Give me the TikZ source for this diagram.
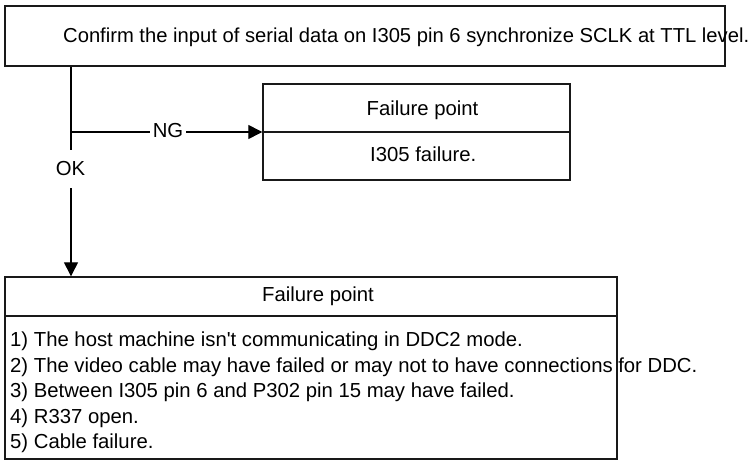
\documentclass[tikz,border=0pt]{standalone}
\usepackage{fontspec}
\setmainfont{Liberation Sans}
\usetikzlibrary{arrows.meta}
\begin{document}
\begin{tikzpicture}[x=1pt,y=-1pt,
  frame/.style={draw=black!90,line width=1.4pt,inner sep=0pt},
  txt/.style={inner sep=0pt,anchor=base west,font=\fontsize{20.3}{24}\selectfont},
  flow/.style={draw=black,line width=1.3pt},
  tip/.style={-{Triangle[length=14pt,width=14pt]}},
  lbl/.style={fill=white,inner xsep=3pt,inner ysep=0pt,font=\fontsize{20.3}{24}\selectfont}]
\useasboundingbox (0,0) rectangle (751,460);

% check step
\node[frame,minimum width=720pt,minimum height=60pt] (check) at (365,36) {};
\node[txt,font=\fontsize{20.2}{24}\selectfont] (checktext) at (63,42.3) {Confirm the input of serial data on I305 pin 6 synchronize SCLK at TTL level.};

% NG result box
\node[frame,minimum width=307pt,minimum height=96pt] (ng) at (416.5,132) {};
\draw[frame] (ng.west) -- (ng.east);
\node[txt] (nghead) at (366.5,115.5) {Failure point};
\node[txt] (ngbody) at (370,161.5) {I305 failure.};

% OK result box
\node[frame,minimum width=612pt,minimum height=182pt] (ok) at (311,368) {};
\coordinate (okdiv) at (5,316);
\draw[frame] (okdiv) -- (okdiv -| ok.east);
\node[txt] (okhead) at (262,301.5) {Failure point};
\node[txt] (item1) at (10,346.5) {1) The host machine isn\textquotesingle t communicating in DDC2 mode.};
\node[txt] (item2) at (10,372) {2) The video cable may have failed or may not to have connections for DDC.};
\node[txt] (item3) at (10,397.5) {3) Between I305 pin 6 and P302 pin 15 may have failed.};
\node[txt] (item4) at (10,423) {4) R337 open.};
\node[txt] (item5) at (10,448.5) {5) Cable failure.};

% connectors
\coordinate (split) at (71,132);
\draw[flow,tip] (check.south -| split) -- (ok.north -| split);
\draw[flow,tip] (split) -- (ng.west);
\node[lbl,minimum height=10pt] (nglabel) at (168,131) {NG};
\node[lbl,minimum height=38pt] (oklabel) at (70.5,169) {OK};
\end{tikzpicture}
\end{document}
